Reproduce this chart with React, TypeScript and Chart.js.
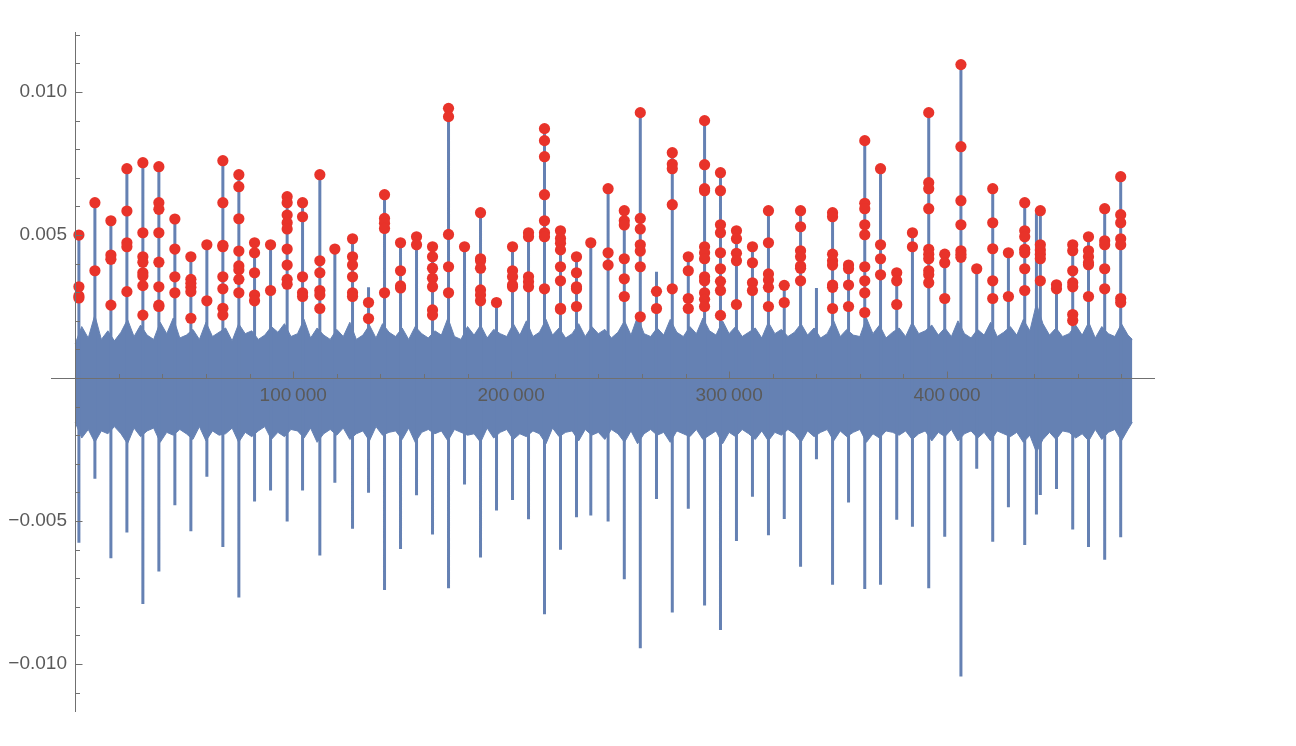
import React, { useEffect, useRef } from 'react';
import { Chart, registerables } from 'chart.js';

Chart.register(...registerables);

// ---- data (values in units of 0.001) ----
const spikeX = [
  1700, 9040, 16380, 23720, 31050, 38390, 45730, 53070, 60410, 67750,
  75090, 82290, 89630, 97240, 104310, 112240, 119130, 127240, 134580, 141920,
  149260, 156600, 163940, 171280, 178620, 185960, 193300, 200640, 207980, 215310,
  222650, 229990, 236550, 244490, 251920, 259260, 266690, 273940, 281280, 288750,
  296050, 303380, 310720, 318060, 325310, 332790, 340080, 347470, 354800, 362240,
  369480, 376910, 384120, 391590, 398930, 406360, 413610, 420950, 428150, 435630,
  441000, 442800, 450210, 457650, 464890, 472320, 479660,
];

const spikeTop = [
  5.00, 6.13, 5.50, 7.32, 7.53, 7.39, 5.56, 4.24, 4.66, 7.60,
  7.11, 4.73, 4.66, 6.34, 6.13, 7.11, 4.51, 4.87, 3.17, 6.41,
  4.73, 4.94, 4.59, 9.43, 4.59, 5.78, 2.64, 4.59, 5.08, 8.72,
  5.15, 4.24, 4.73, 6.62, 5.85, 9.28, 3.72, 7.88, 4.24, 9.00,
  7.18, 5.15, 4.59, 5.85, 3.24, 5.85, 3.15, 5.78, 3.95, 8.30,
  7.32, 3.68, 5.08, 9.28, 4.33, 10.96, 3.82, 6.62, 4.38, 6.13,
  5.76, 5.85, 3.26, 4.66, 4.94, 5.92, 7.04,
];

const spikeBottom = [
  -5.76, -3.52, -6.30, -5.40, -7.90, -6.77, -4.45, -5.36, -3.45, -5.91,
  -7.68, -4.32, -3.93, -5.02, -3.93, -6.21, -3.66, -5.27, -4.01, -7.41,
  -5.98, -4.10, -5.47, -7.35, -3.72, -6.28, -4.63, -4.27, -4.94, -8.26,
  -6.01, -4.87, -4.81, -5.02, -7.04, -9.45, -4.23, -8.20, -4.57, -7.96,
  -8.81, -5.70, -4.15, -5.50, -4.93, -6.60, -2.84, -7.23, -4.35, -7.38,
  -7.23, -4.96, -5.20, -7.35, -5.55, -10.44, -3.17, -5.73, -4.52, -5.84,
  -4.77, -4.09, -3.88, -5.30, -5.91, -6.36, -5.57,
];

const peakDots = [
  [5.00, 3.19, 2.87, 2.80],
  [6.13, 3.75],
  [5.50, 4.30, 4.15, 2.55],
  [7.32, 5.84, 4.73, 4.59, 3.02],
  [7.53, 5.08, 4.24, 4.05, 3.68, 3.57, 3.23, 2.20],
  [7.39, 6.13, 5.90, 5.08, 4.05, 3.19, 2.55, 2.50],
  [5.56, 4.51, 3.54, 2.98],
  [4.24, 3.45, 3.31, 3.17, 3.02, 2.09],
  [4.66, 2.70],
  [7.60, 6.13, 4.64, 4.59, 3.54, 3.12, 2.44, 2.20],
  [7.11, 6.69, 5.57, 4.44, 3.92, 3.78, 3.45, 2.98],
  [4.73, 4.38, 3.68, 2.90, 2.70],
  [4.66, 3.06],
  [6.34, 6.13, 5.70, 5.43, 5.21, 4.51, 3.95, 3.45, 3.28],
  [6.13, 5.64, 3.54, 2.98, 2.85],
  [7.11, 4.10, 3.68, 3.06, 2.90, 2.43],
  [4.51],
  [4.87, 4.24, 3.95, 3.54, 2.98, 2.85],
  [2.64, 2.08],
  [6.41, 5.58, 5.41, 5.23, 2.98],
  [4.73, 3.75, 3.22, 3.15],
  [4.94, 4.66],
  [4.59, 4.24, 3.84, 3.49, 3.19, 2.38, 2.20],
  [9.43, 9.14, 5.02, 3.89, 2.98],
  [4.59],
  [5.78, 4.17, 4.10, 3.84, 3.08, 2.90, 2.70],
  [2.64],
  [4.59, 3.75, 3.54, 3.25, 3.19],
  [5.08, 4.94, 3.54, 3.37, 3.19],
  [8.72, 8.30, 7.74, 6.41, 5.50, 5.08, 4.94, 3.12],
  [5.15, 4.88, 4.71, 4.48, 3.89, 3.40, 2.44, 2.40],
  [4.24, 3.68, 3.19, 3.12, 2.50],
  [4.73],
  [6.62, 4.38, 3.95],
  [5.85, 5.50, 5.35, 4.17, 3.47, 2.85],
  [9.28, 5.58, 5.21, 4.66, 4.44, 3.89, 2.14],
  [3.03, 2.43],
  [7.88, 7.48, 7.32, 6.06, 3.12],
  [4.24, 3.75, 2.78, 2.43],
  [9.00, 7.46, 6.62, 6.55, 4.59, 4.38, 4.17, 3.54, 3.40, 2.98, 2.75, 2.50],
  [7.18, 6.55, 5.36, 5.08, 4.38, 3.82, 3.38, 3.06, 2.19],
  [5.15, 4.87, 4.36, 4.10, 2.57],
  [4.59, 4.03, 3.33, 3.06],
  [5.85, 4.73, 3.64, 3.43, 3.17, 2.50],
  [3.24, 2.64],
  [5.85, 5.29, 4.45, 4.24, 3.92, 3.84, 3.40],
  [],
  [5.78, 5.64, 4.33, 4.10, 3.95, 3.25, 3.17, 2.43],
  [3.95, 3.82, 3.25, 2.50],
  [8.30, 6.11, 5.92, 5.36, 5.01, 3.89, 3.40, 2.98, 2.29],
  [7.32, 4.66, 4.17, 3.61],
  [3.68, 3.40, 2.57],
  [5.08, 4.59],
  [9.28, 6.83, 6.62, 5.92, 4.50, 4.33, 4.17, 3.75, 3.61, 3.33],
  [4.33, 4.03, 2.78],
  [10.96, 8.09, 6.20, 5.36, 4.45, 4.33, 4.22],
  [3.82],
  [6.62, 5.43, 4.52, 3.40, 2.78],
  [4.38, 2.85],
  [6.13, 5.15, 4.94, 4.50, 4.38, 3.82, 3.06],
  [],
  [5.85, 4.66, 4.48, 4.33, 4.17, 3.40],
  [3.26, 3.12],
  [4.66, 4.45, 3.75, 3.33, 3.19, 2.22, 2.01],
  [4.94, 4.45, 4.24, 4.03, 3.96, 2.85],
  [5.92, 4.80, 4.66, 3.82, 3.12],
  [7.04, 5.71, 5.43, 4.87, 4.66, 2.78, 2.64],
];

// noise band envelope
const bandX = [
  0, 3000, 6000, 9000, 12000, 15000, 18000, 21000, 24000, 27000,
  30000, 33000, 36000, 39000, 42000, 45000, 48000, 51000, 54000, 57000,
  60000, 63000, 66000, 69000, 72000, 75000, 78000, 81000, 84000, 87000,
  90000, 93000, 96000, 99000, 102000, 105000, 108000, 111000, 114000, 117000,
  120000, 123000, 126000, 129000, 132000, 135000, 138000, 141000, 144000, 147000,
  150000, 153000, 156000, 159000, 162000, 165000, 168000, 171000, 174000, 177000,
  180000, 183000, 186000, 189000, 192000, 195000, 198000, 201000, 204000, 207000,
  210000, 213000, 216000, 219000, 222000, 225000, 228000, 231000, 234000, 237000,
  240000, 243000, 246000, 249000, 252000, 255000, 258000, 261000, 264000, 267000,
  270000, 273000, 276000, 279000, 282000, 285000, 288000, 291000, 294000, 297000,
  300000, 303000, 306000, 309000, 312000, 315000, 318000, 321000, 324000, 327000,
  330000, 333000, 336000, 339000, 342000, 345000, 348000, 351000, 354000, 357000,
  360000, 363000, 366000, 369000, 372000, 375000, 378000, 381000, 384000, 387000,
  390000, 393000, 396000, 399000, 402000, 405000, 408000, 411000, 414000, 417000,
  420000, 423000, 426000, 429000, 432000, 435000, 438000, 441000, 444000, 447000,
  450000, 453000, 456000, 459000, 462000, 465000, 468000, 471000, 474000, 477000,
  480000, 483000, 485000,
];

const bandTop = [
  1.20, 1.80, 1.40, 2.20, 1.35, 1.65, 1.30, 1.60, 2.05, 1.45,
  1.85, 1.50, 1.35, 1.95, 1.55, 2.10, 1.40, 1.50, 1.70, 1.35,
  1.95, 1.45, 1.60, 1.75, 1.30, 1.90, 1.55, 1.65, 1.35, 1.50,
  1.80, 1.60, 1.90, 1.45, 1.55, 2.05, 1.40, 1.75, 1.50, 1.35,
  1.70, 1.45, 1.95, 1.35, 1.50, 1.85, 1.40, 1.90, 1.60, 1.45,
  1.75, 1.35, 1.80, 1.55, 1.40, 1.65, 1.50, 2.10, 1.45, 1.35,
  1.80, 1.50, 1.85, 1.40, 1.70, 1.55, 1.45, 1.90, 1.50, 2.00,
  1.45, 1.60, 2.05, 1.50, 1.75, 1.40, 1.55, 1.90, 1.45, 1.80,
  1.55, 1.70, 1.40, 1.60, 2.00, 1.50, 2.15, 1.55, 1.45, 1.75,
  1.50, 2.05, 1.60, 1.45, 1.80, 1.55, 2.10, 1.65, 1.50, 2.00,
  1.55, 1.80, 1.45, 1.60, 1.75, 1.40, 1.95, 1.55, 1.70, 1.45,
  1.60, 1.90, 1.50, 1.75, 1.40, 1.55, 2.00, 1.45, 1.70, 1.50,
  1.45, 2.10, 1.55, 1.85, 1.40, 1.60, 1.75, 1.45, 1.95, 1.55,
  1.65, 1.85, 1.50, 1.75, 1.45, 2.00, 1.55, 1.40, 1.70, 1.50,
  1.95, 1.45, 1.60, 1.80, 1.50, 2.05, 1.65, 2.60, 1.90, 1.50,
  1.75, 1.45, 1.55, 1.85, 1.50, 1.95, 1.40, 1.80, 1.55, 1.45,
  1.90, 1.50, 1.35,
];

const bandBottom = [
  -1.55, -2.10, -1.80, -2.25, -1.85, -1.95, -1.70, -1.95, -2.30, -1.75,
  -2.05, -1.85, -1.75, -2.25, -1.90, -2.00, -1.80, -1.95, -2.15, -1.70,
  -2.20, -1.85, -2.00, -1.95, -1.75, -2.25, -1.90, -2.05, -1.85, -1.70,
  -2.15, -1.90, -2.05, -1.80, -1.85, -2.10, -1.75, -2.25, -1.95, -1.80,
  -2.00, -1.75, -2.15, -1.95, -1.85, -2.20, -1.70, -2.00, -1.90, -1.85,
  -2.15, -1.75, -2.25, -1.90, -1.80, -1.95, -1.85, -2.20, -1.80, -1.90,
  -2.00, -1.95, -2.25, -1.75, -2.10, -1.90, -1.80, -2.15, -1.95, -2.05,
  -1.85, -1.95, -2.30, -1.75, -2.05, -1.90, -1.85, -2.20, -1.80, -2.00,
  -1.90, -2.15, -1.80, -1.95, -2.25, -1.85, -2.30, -1.95, -1.80, -2.00,
  -1.90, -2.25, -1.85, -1.95, -2.05, -1.80, -2.15, -2.00, -1.85, -2.30,
  -1.90, -2.05, -1.80, -1.95, -2.15, -1.85, -2.20, -1.90, -2.00, -1.80,
  -1.95, -2.25, -1.85, -2.05, -1.90, -1.80, -2.20, -1.85, -2.05, -1.90,
  -1.80, -2.25, -1.95, -2.10, -1.85, -1.90, -2.00, -1.85, -2.15, -1.95,
  -1.85, -2.20, -1.90, -2.05, -1.80, -2.20, -1.95, -1.85, -2.10, -1.90,
  -2.20, -1.85, -1.95, -2.05, -1.90, -2.25, -2.00, -2.60, -2.15, -1.90,
  -2.15, -1.85, -1.90, -2.10, -1.95, -2.20, -1.80, -2.15, -1.90, -1.80,
  -2.20, -1.80, -1.55,
];

// axis ticks
const xTickValues = [100000, 200000, 300000, 400000];
const xTickLabels = ['100\u2009000', '200\u2009000', '300\u2009000', '400\u2009000'];
const xMinorTicks = [
  20000, 40000, 60000, 80000, 120000, 140000, 160000, 180000,
  220000, 240000, 260000, 280000, 320000, 340000, 360000, 380000,
  420000, 440000, 460000, 480000,
];
const yTickValues = [-0.01, -0.005, 0.005, 0.01];
const yTickLabels = ['\u22120.010', '\u22120.005', '0.005', '0.010'];
const yMinorTicks = [
  -0.011, -0.009, -0.008, -0.007, -0.006, -0.004, -0.003, -0.002, -0.001,
  0.001, 0.002, 0.003, 0.004, 0.006, 0.007, 0.008, 0.009, 0.011, 0.012,
];

const UNIT = 0.001;
const BLUE = '#6581B3';
const RED = '#E8332A';
const AXIS = '#707070';
const LABEL = '#5a5a5a';

const axesPlugin = {
  id: 'mmaAxes',
  afterDraw(chart: any) {
    const { ctx, chartArea } = chart;
    const xs = chart.scales.x;
    const ys = chart.scales.y;
    const x0 = Math.round(xs.getPixelForValue(0)) + 0.5;
    const y0 = Math.round(ys.getPixelForValue(0)) + 0.5;
    ctx.save();
    ctx.strokeStyle = AXIS;
    ctx.lineWidth = 1;
    ctx.beginPath();
    ctx.moveTo(chartArea.left, y0);
    ctx.lineTo(chartArea.right, y0);
    ctx.moveTo(x0, chartArea.top);
    ctx.lineTo(x0, chartArea.bottom);
    xTickValues.forEach((v) => {
      const p = Math.round(xs.getPixelForValue(v)) + 0.5;
      ctx.moveTo(p, y0);
      ctx.lineTo(p, y0 - 7);
    });
    xMinorTicks.forEach((v) => {
      const p = Math.round(xs.getPixelForValue(v)) + 0.5;
      ctx.moveTo(p, y0);
      ctx.lineTo(p, y0 - 4.5);
    });
    yTickValues.forEach((v) => {
      const p = Math.round(ys.getPixelForValue(v)) + 0.5;
      ctx.moveTo(x0, p);
      ctx.lineTo(x0 + 7, p);
    });
    yMinorTicks.forEach((v) => {
      const p = Math.round(ys.getPixelForValue(v)) + 0.5;
      ctx.moveTo(x0, p);
      ctx.lineTo(x0 + 4.5, p);
    });
    ctx.stroke();

    ctx.fillStyle = LABEL;
    ctx.font = '19px "Liberation Sans", Arial, sans-serif';
    ctx.textBaseline = 'middle';
    ctx.textAlign = 'center';
    xTickValues.forEach((v, i) => {
      ctx.fillText(xTickLabels[i], xs.getPixelForValue(v), y0 + 17);
    });
    ctx.textAlign = 'right';
    yTickValues.forEach((v, i) => {
      ctx.fillText(yTickLabels[i], x0 - 8.5, ys.getPixelForValue(v));
    });
    ctx.restore();
  },
};

export default function App() {
  const ref = useRef<HTMLCanvasElement>(null);

  useEffect(() => {
    document.body.style.margin = '0';
    const canvas = ref.current;
    if (!canvas) return;

    const bandTopData = bandX.map((x, i) => ({ x, y: bandTop[i] * UNIT }));
    const bandBottomData = bandX.map((x, i) => ({ x, y: bandBottom[i] * UNIT }));
    const spikeData: { x: number; y: number | null }[] = [];
    spikeX.forEach((x, i) => {
      spikeData.push({ x, y: spikeBottom[i] * UNIT });
      spikeData.push({ x, y: spikeTop[i] * UNIT });
      spikeData.push({ x, y: null });
    });
    const dotData: { x: number; y: number }[] = [];
    peakDots.forEach((vals, i) => {
      vals.forEach((v) => dotData.push({ x: spikeX[i], y: v * UNIT }));
    });

    const chart = new Chart(canvas, {
      type: 'line',
      data: {
        datasets: [
          {
            label: 'peaks',
            data: dotData,
            showLine: false,
            pointRadius: 5.6,
            pointHoverRadius: 5.6,
            pointBackgroundColor: RED,
            pointBorderColor: RED,
            pointBorderWidth: 0,
            order: 0,
          },
          {
            label: 'spikes',
            data: spikeData,
            borderColor: BLUE,
            borderWidth: 3,
            pointRadius: 0,
            spanGaps: false,
            fill: false,
            borderCapStyle: 'butt',
            order: 1,
          },
          {
            label: 'bandTop',
            data: bandTopData,
            borderColor: BLUE,
            borderWidth: 1,
            backgroundColor: BLUE,
            pointRadius: 0,
            fill: '+1',
            order: 2,
          },
          {
            label: 'bandBottom',
            data: bandBottomData,
            borderColor: BLUE,
            borderWidth: 1,
            pointRadius: 0,
            fill: false,
            order: 3,
          },
        ],
      } as any,
      options: {
        animation: false,
        responsive: false,
        maintainAspectRatio: false,
        events: [],
        layout: { padding: { left: 51, right: 141, top: 32, bottom: 34 } },
        plugins: {
          legend: { display: false },
          tooltip: { enabled: false },
        },
        elements: { line: { tension: 0 } },
        scales: {
          x: { type: 'linear', min: -11100, max: 495400, display: false },
          y: { type: 'linear', min: -0.01168, max: 0.0121, display: false },
        },
      } as any,
      plugins: [axesPlugin],
    });

    return () => chart.destroy();
  }, []);

  return (
    <div style={{ position: 'fixed', left: 0, top: 0, width: 1296, height: 746, background: '#ffffff' }}>
      <canvas ref={ref} width={1296} height={746} style={{ display: 'block', width: 1296, height: 746 }} />
    </div>
  );
}
